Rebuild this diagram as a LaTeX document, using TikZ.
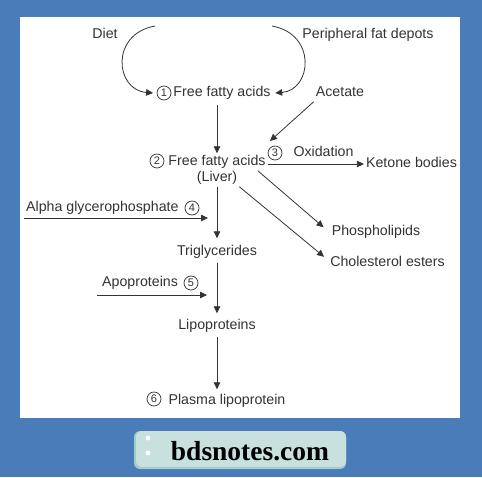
\documentclass[tikz,border=0pt]{standalone}
\usepackage{fontspec}
\setmainfont{Liberation Sans}
\newfontfamily\badgefont{Liberation Serif}
\usepackage{tikz}
\usetikzlibrary{arrows.meta}

\definecolor{bgblue}{HTML}{4A7CBA}
\definecolor{badgefill}{HTML}{C8E0DE}
\definecolor{badgeshade}{HTML}{A6CAC6}
\definecolor{ink}{HTML}{333333}

\begin{document}
\begin{tikzpicture}[x=1pt,y=-1pt]
\tikzset{Label/.style = {
text = ink,
inner sep = 2pt,
text height = 10pt,
text depth = 3pt,
font = \fontsize{14.2}{17}\selectfont},
Num/.style = {
circle,
draw = ink,
line width = 0.7pt,
inner sep = 0pt,
minimum size = 14pt,
text = ink,
font = \fontsize{11}{11}\selectfont},
Flow/.style = {
draw = ink,
line width = 0.8pt,
-{Triangle[length=7pt,width=6.5pt]}}}
\useasboundingbox (0,0) rectangle (482,477);
\fill[bgblue] (0,0) rectangle (482,477);
\fill[white] (20,17) rectangle (460,418);
\fill[badgeshade, rounded corners=6pt] (134,431) rectangle (346,469);
\fill[badgefill, rounded corners=6pt] (136,431) rectangle (346,467);
\fill[white] (148,438) circle (2.5pt);
\fill[white] (148,453) circle (2.5pt);
\node[anchor=base, text=black, font=\badgefont\bfseries\fontsize{27.5}{30}\selectfont] (site) at (250,460) {bdsnotes.com};
\node[Label] (diet) at (105,35) {Diet};
\node[Label] (depots) at (368,35) {Peripheral fat depots};
\node[Label] (ffa1) at (222,93) {Free fatty acids};
\node[Num] (n1) at (164,93) {1};
\node[Label] (acetate) at (340,93) {Acetate};
\node[Label] (ffa2) at (217,162) {Free fatty acids};
\node[Num] (n2) at (157,161) {2};
\node[Label] (liver) at (217,178) {(Liver)};
\node[Num] (n3) at (275,153) {3};
\node[Label] (oxid) at (323.5,153) {Oxidation};
\node[Label] (ketone) at (411.5,164) {Ketone bodies};
\node[Label] (phospho) at (376,232) {Phospholipids};
\node[Label] (chol) at (387.5,263) {Cholesterol esters};
\node[Label, anchor=west] (alpha) at (24,208) {Alpha glycerophosphate};
\node[Num] (n4) at (192,208) {4};
\node[Label] (trig) at (217,252) {Triglycerides};
\node[Label, anchor=west] (apo) at (100,283) {Apoproteins};
\node[Num] (n5) at (191,283) {5};
\node[Label] (lipo) at (217,326) {Lipoproteins};
\node[Label] (plasma) at (227,401) {Plasma lipoprotein};
\node[Num] (n6) at (154,399) {6};
\coordinate (dietfrom) at (155,26);
\coordinate (depotsfrom) at (272,26);
\coordinate (acetip) at (270,141);
\coordinate (alphatip) at (208,218);
\coordinate (apotip) at (207,295);
\draw[Flow] (dietfrom) .. controls (110,34) and (115,90) .. ([xshift=-3.5pt]n1.west);
\draw[Flow] (depotsfrom) .. controls (317,34) and (312,90) .. ([xshift=2.5pt]ffa1.east);
\draw[Flow, shorten <=3pt] (ffa1.south -| ffa2) -- (ffa2.north);
\draw[Flow] (acetate.south west) -- (acetip);
\draw[Flow] ([yshift=-2pt]ffa2.east) -- ([yshift=-2pt]ffa2.east -| ketone.west);
\draw[Flow] ([xshift=-10pt]ffa2.south east) -- ([shift={(-6pt,-4pt)}]phospho.north west);
\draw[Flow] (liver.south east) -- ([shift={(-4pt,-2.5pt)}]chol.north west);
\draw[Flow, shorten >=5pt] (liver.south) -- (trig.north);
\draw[Flow] (alpha.south west |- alphatip) -- (alphatip);
\draw[Flow, shorten <=2pt, shorten >=4pt] (trig.south) -- (lipo.north);
\draw[Flow] ([xshift=-3pt]apo.west |- apotip) -- (apotip);
\draw[Flow, shorten <=2pt, shorten >=3pt] (lipo.south) -- (lipo.south |- plasma.north);
\end{tikzpicture}
\end{document}
